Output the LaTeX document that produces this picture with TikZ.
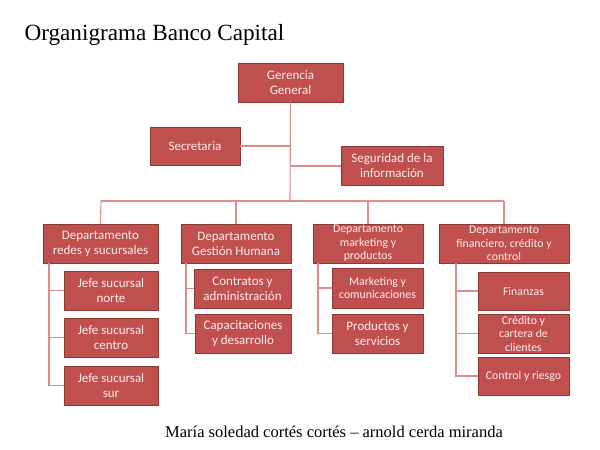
\documentclass[tikz,border=0pt]{standalone}
\usepackage{fontspec}
\setmainfont{Liberation Serif}
\newfontfamily\boxfont{Carlito}
\definecolor{boxred}{RGB}{192,80,77}
\definecolor{boxedge}{RGB}{140,56,54}
\definecolor{linered}{RGB}{222,140,140}
\definecolor{boxtext}{RGB}{255,236,236}
\tikzset{
  box/.style={draw=boxedge, line width=0.9pt, fill=boxred, text=boxtext, align=center,
    inner sep=0pt, font=\boxfont\fontsize{13}{15}\selectfont},
  smallbox/.style={box, font=\boxfont\fontsize{11.8}{13.5}\selectfont},
  conn/.style={draw=linered, line width=1.1pt}
}
\begin{document}
\begin{tikzpicture}[x=1pt,y=-1pt]
\useasboundingbox (0,0) rectangle (600,450);
\node[anchor=base west, font=\fontsize{23.2}{26}\selectfont] (title) at (21,40) {Organigrama Banco Capital};
\node[anchor=base, font=\fontsize{16.5}{19}\selectfont] (foot) at (334,437) {María soledad cortés cortés – arnold cerda miranda};

% connectors coordinates
\coordinate (busL) at (101,201);
\coordinate (busR) at (504,201);
\coordinate (busM) at (290,201);
\coordinate (s1) at (49,0);
\coordinate (s2) at (186,0);
\coordinate (s3) at (318,0);
\coordinate (s4) at (456,0);

% top level
\node[box, minimum width=105pt, minimum height=39pt] (ger) at (290.5,82.5) {Gerencia\\General};
\node[box, minimum width=90pt, minimum height=38pt] (sec) at (195,146) {Secretaria};
\node[box, minimum width=102pt, minimum height=39pt] (seg) at (392,166) {Seguridad de la\\información};

% departments
\node[box, minimum width=115pt, minimum height=39pt] (d1) at (100.5,243.5) {Departamento\\redes y sucursales};
\node[box, minimum width=110pt, minimum height=39pt] (d2) at (236,243.5) {Departamento\\Gestión Humana};
\node[smallbox, minimum width=110pt, minimum height=39pt] (d3) at (368,243.5) {Departamento\\marketing y\\productos};
\node[smallbox, minimum width=130pt, minimum height=39pt] (d4) at (504,243.5) {Departamento\\financiero, crédito y\\control};

% children
\node[box, minimum width=94pt, minimum height=39pt] (j1) at (111,290.5) {Jefe sucursal\\norte};
\node[box, minimum width=94pt, minimum height=39pt] (j2) at (111,337.5) {Jefe sucursal\\centro};
\node[box, minimum width=94pt, minimum height=39pt] (j3) at (111,385.5) {Jefe sucursal\\sur};

\node[box, minimum width=97pt, minimum height=39pt] (c1) at (242.5,288.5) {Contratos y\\administración};
\node[box, minimum width=96pt, minimum height=39pt] (c2) at (243,333.5) {Capacitaciones\\y desarrollo};

\node[smallbox, minimum width=91pt, minimum height=40pt] (m1) at (377.5,288) {Marketing y\\comunicaciones};
\node[box, minimum width=91pt, minimum height=39pt] (m2) at (377.5,333.5) {Productos y\\servicios};

\node[smallbox, minimum width=91pt, minimum height=38pt] (f1) at (523.5,291) {Finanzas};
\node[smallbox, minimum width=91pt, minimum height=39pt] (f2) at (523.5,333.5) {Crédito y\\cartera de\\clientes};
\node[smallbox, minimum width=91pt, minimum height=38pt] (f3) at (523.5,376) {Control y riesgo};

% connectors
\draw[conn] (ger.south) -- (busM);
\draw[conn] (sec.east) -- (sec.east -| busM);
\draw[conn] (seg.west -| busM) -- (seg.west);
\draw[conn] (busL) -- (busR);
\draw[conn] (busL) -- (d1.north);
\draw[conn] (d2.north |- busL) -- (d2.north);
\draw[conn] (d3.north |- busL) -- (d3.north);
\draw[conn] (busR) -- (d4.north);

\draw[conn] (s1 |- d1.south) |- (j3.west);
\draw[conn] (s1 |- j1.west) -- (j1.west);
\draw[conn] (s1 |- j2.west) -- (j2.west);

\draw[conn] (s2 |- d2.south) |- (c2.west);
\draw[conn] (s2 |- c1.west) -- (c1.west);

\draw[conn] (s3 |- d3.south) |- (m2.west);
\draw[conn] (s3 |- m1.west) -- (m1.west);

\draw[conn] (s4 |- d4.south) |- (f3.west);
\draw[conn] (s4 |- f1.west) -- (f1.west);
\draw[conn] (s4 |- f2.west) -- (f2.west);
\end{tikzpicture}
\end{document}
